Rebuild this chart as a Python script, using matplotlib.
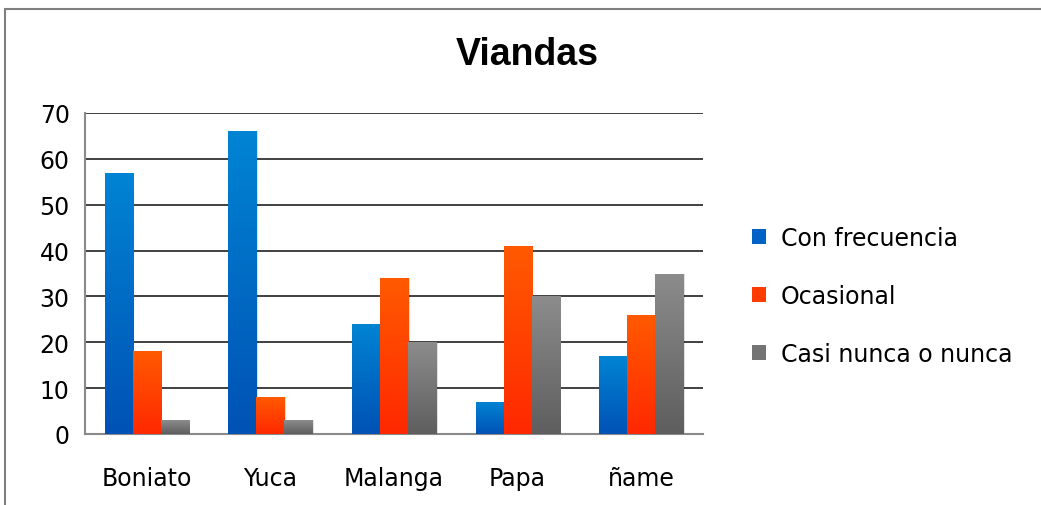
import matplotlib.pyplot as plt
import numpy as np
from matplotlib.colors import LinearSegmentedColormap
from matplotlib.patches import Patch, Rectangle

categories = ["Boniato", "Yuca", "Malanga", "Papa", "ñame"]
series_names = ["Con frecuencia", "Ocasional", "Casi nunca o nunca"]
con_frecuencia = [57, 66, 24, 7, 17]
ocasional = [18, 8, 34, 41, 26]
casi_nunca = [3, 3, 20, 30, 35]
y_ticks = [0, 10, 20, 30, 40, 50, 60, 70]

# (top colour, bottom colour) per series, Excel-like vertical gradient
GRADIENTS = [("#0084d4", "#0052b4"), ("#ff5a00", "#ff2800"), ("#8c8c8c", "#5e5e5e")]
LEGEND_COLORS = ["#0062c4", "#ff3c00", "#747474"]

plt.rcParams.update({"font.family": ["DejaVu Sans"], "font.size": 17})

fig = plt.figure(figsize=(10.41, 5.06), dpi=100)
ax = fig.add_axes([85 / 1041, 1 - 435 / 506, (703 - 85) / 1041, (435 - 114) / 506])

# outer chart frame (bottom edge cut off in the reference)
frame = Rectangle((5 / 1041, -0.05), 1.1, 1 - 10 / 506 + 0.05, transform=fig.transFigure,
                  fill=False, edgecolor="#7f7f7f", linewidth=1.5)
fig.add_artist(frame)

x = np.arange(len(categories))
width = 0.227
values = [con_frecuencia, ocasional, casi_nunca]
grad = np.linspace(1, 0, 256).reshape(-1, 1)

for i, (vals, (top, bottom)) in enumerate(zip(values, GRADIENTS)):
    cmap = LinearSegmentedColormap.from_list(f"g{i}", [bottom, top])
    offset = (i - 1) * width
    for xi, v in zip(x, vals):
        left = xi + offset - width / 2
        # soft shadow
        ax.add_patch(Rectangle((left + 0.012, 0), width, v, facecolor="#000000",
                               alpha=0.12, linewidth=0, zorder=2))
        bar = Rectangle((left, 0), width, v, facecolor="none", linewidth=0, zorder=3)
        ax.add_patch(bar)
        im = ax.imshow(grad, cmap=cmap, aspect="auto", extent=(left, left + width, 0, v),
                       zorder=3, interpolation="bilinear")
        im.set_clip_path(bar)

ax.set_xlim(-0.5, len(categories) - 0.5)
ax.set_ylim(0, 70)
ax.set_yticks(y_ticks)
ax.set_xticks(x)
ax.set_xticklabels(categories)
ax.tick_params(axis="both", length=0, labelsize=17, colors="#000000")
ax.tick_params(axis="x", pad=23)
ax.tick_params(axis="y", pad=11)

ax.yaxis.grid(True, color="#404040", linewidth=1.4, zorder=1)
ax.set_axisbelow(True)
for side in ("top", "right"):
    ax.spines[side].set_visible(False)
ax.spines["left"].set_color("#8a8a8a")
ax.spines["left"].set_linewidth(1.5)
ax.spines["bottom"].set_color("#8a8a8a")
ax.spines["bottom"].set_linewidth(1.5)

fig.text(527 / 1041, 1 - 55 / 506, "Viandas", ha="center", va="center",
         fontsize=27, fontweight="bold", family=["Liberation Sans"])

handles = [Patch(facecolor=c, label=n) for c, n in zip(LEGEND_COLORS, series_names)]
fig.legend(handles=handles, loc="center left", bbox_to_anchor=(731 / 1041, 1 - 297 / 506),
           frameon=False, fontsize=17, handlelength=0.6, handleheight=0.6,
           handletextpad=0.6, labelspacing=1.45)

fig.savefig("out.png", dpi=100)
